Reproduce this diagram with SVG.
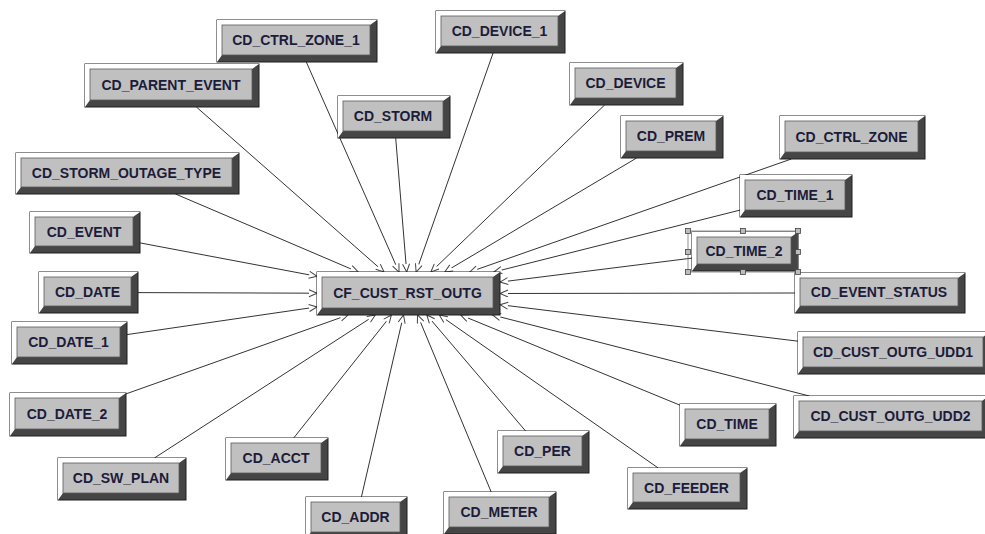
<svg xmlns="http://www.w3.org/2000/svg" width="985" height="534" viewBox="0 0 985 534">
<defs>
<style>
.o{fill:#454545;stroke:#1e1e1e;stroke-width:1}
.w{fill:#ffffff}
.f{fill:#c0c0c0;stroke:#5a5a5a;stroke-width:0.8}
.t{font-family:"Liberation Sans",Arial,sans-serif;font-weight:bold;font-size:14px;fill:#1c1c3a;text-anchor:middle}
.c{stroke:#333;stroke-width:1;fill:none;marker-end:url(#arr)}
.h{fill:#bcbcbc;stroke:#444;stroke-width:0.8}
</style>
<marker id="arr" markerWidth="11" markerHeight="9" refX="9" refY="4" orient="auto" markerUnits="userSpaceOnUse">
<path d="M1,0.5 L9,4 L1,7.5" fill="#fff" stroke="#444" stroke-width="1"/>
</marker>
</defs>
<rect width="985" height="534" fill="#fff"/>
<g id="connectors">
<line class="c" x1="306.3" y1="62" x2="399.0" y2="272"/>
<line class="c" x1="196.4" y1="107" x2="384.0" y2="272"/>
<line class="c" x1="175.5" y1="194" x2="358.2" y2="272"/>
<line class="c" x1="140" y1="242.9" x2="317" y2="276.3"/>
<line class="c" x1="138" y1="292.6" x2="317" y2="293.2"/>
<line class="c" x1="127" y1="334.6" x2="317" y2="306.9"/>
<line class="c" x1="126" y1="393.9" x2="348.0" y2="315"/>
<line class="c" x1="154.4" y1="458" x2="375.3" y2="315"/>
<line class="c" x1="293.7" y1="438" x2="391.4" y2="315"/>
<line class="c" x1="361.4" y1="497" x2="403.5" y2="315"/>
<line class="c" x1="491.2" y1="492" x2="417.5" y2="315"/>
<line class="c" x1="525.6" y1="431" x2="426.8" y2="315"/>
<line class="c" x1="658.2" y1="468" x2="439.3" y2="315"/>
<line class="c" x1="680" y1="405.2" x2="460.7" y2="315"/>
<line class="c" x1="809.4" y1="396" x2="492.6" y2="315"/>
<line class="c" x1="798" y1="341.2" x2="500" y2="304.7"/>
<line class="c" x1="795" y1="293" x2="500" y2="293.5"/>
<line class="c" x1="692" y1="258.1" x2="500" y2="282.1"/>
<line class="c" x1="740" y1="210.1" x2="493.9" y2="272"/>
<line class="c" x1="791.3" y1="159" x2="469.7" y2="272"/>
<line class="c" x1="636.6" y1="158" x2="444.7" y2="272"/>
<line class="c" x1="604.6" y1="105" x2="430.9" y2="272"/>
<line class="c" x1="493.1" y1="53" x2="416.1" y2="272"/>
<line class="c" x1="395.7" y1="138" x2="406.7" y2="272"/>
</g>
<g id="CD_CTRL_ZONE_1"><rect class="o" x="217" y="20" width="160" height="42"/><polygon class="w" points="217,20 377,20 370,25 222,25 222,55 217,62"/><rect class="f" x="222" y="25" width="148" height="30"/><text class="t" x="296" y="45">CD_CTRL_ZONE_1</text></g>
<g id="CD_PARENT_EVENT"><rect class="o" x="85" y="64" width="174" height="43"/><polygon class="w" points="85,64 259,64 252,69 90,69 90,100 85,107"/><rect class="f" x="90" y="69" width="162" height="31"/><text class="t" x="171" y="89.5">CD_PARENT_EVENT</text></g>
<g id="CD_STORM_OUTAGE_TYPE"><rect class="o" x="16" y="153" width="223" height="41"/><polygon class="w" points="16,153 239,153 232,158 21,158 21,187 16,194"/><rect class="f" x="21" y="158" width="211" height="29"/><text class="t" x="126.5" y="177.5">CD_STORM_OUTAGE_TYPE</text></g>
<g id="CD_EVENT"><rect class="o" x="30" y="212" width="110" height="41"/><polygon class="w" points="30,212 140,212 133,217 35,217 35,246 30,253"/><rect class="f" x="35" y="217" width="98" height="29"/><text class="t" x="84" y="236.5">CD_EVENT</text></g>
<g id="CD_DATE"><rect class="o" x="39" y="272" width="99" height="41"/><polygon class="w" points="39,272 138,272 131,277 44,277 44,306 39,313"/><rect class="f" x="44" y="277" width="87" height="29"/><text class="t" x="87.5" y="296.5">CD_DATE</text></g>
<g id="CD_DATE_1"><rect class="o" x="12" y="322" width="115" height="42"/><polygon class="w" points="12,322 127,322 120,327 17,327 17,357 12,364"/><rect class="f" x="17" y="327" width="103" height="30"/><text class="t" x="68.5" y="347">CD_DATE_1</text></g>
<g id="CD_DATE_2"><rect class="o" x="10" y="393" width="116" height="43"/><polygon class="w" points="10,393 126,393 119,398 15,398 15,429 10,436"/><rect class="f" x="15" y="398" width="104" height="31"/><text class="t" x="67" y="418.5">CD_DATE_2</text></g>
<g id="CD_SW_PLAN"><rect class="o" x="58" y="458" width="128" height="42"/><polygon class="w" points="58,458 186,458 179,463 63,463 63,493 58,500"/><rect class="f" x="63" y="463" width="116" height="30"/><text class="t" x="121" y="483">CD_SW_PLAN</text></g>
<g id="CD_ACCT"><rect class="o" x="226" y="438" width="102" height="42"/><polygon class="w" points="226,438 328,438 321,443 231,443 231,473 226,480"/><rect class="f" x="231" y="443" width="90" height="30"/><text class="t" x="276" y="463">CD_ACCT</text></g>
<g id="CD_ADDR"><rect class="o" x="306" y="497" width="101" height="42"/><polygon class="w" points="306,497 407,497 400,502 311,502 311,532 306,539"/><rect class="f" x="311" y="502" width="89" height="30"/><text class="t" x="355.5" y="522">CD_ADDR</text></g>
<g id="CD_METER"><rect class="o" x="444" y="492" width="112" height="42"/><polygon class="w" points="444,492 556,492 549,497 449,497 449,527 444,534"/><rect class="f" x="449" y="497" width="100" height="30"/><text class="t" x="499" y="517">CD_METER</text></g>
<g id="CD_PER"><rect class="o" x="498" y="431" width="91" height="42"/><polygon class="w" points="498,431 589,431 582,436 503,436 503,466 498,473"/><rect class="f" x="503" y="436" width="79" height="30"/><text class="t" x="542.5" y="456">CD_PER</text></g>
<g id="CD_FEEDER"><rect class="o" x="628" y="468" width="119" height="41"/><polygon class="w" points="628,468 747,468 740,473 633,473 633,502 628,509"/><rect class="f" x="633" y="473" width="107" height="29"/><text class="t" x="686.5" y="492.5">CD_FEEDER</text></g>
<g id="CD_TIME"><rect class="o" x="680" y="404" width="96" height="42"/><polygon class="w" points="680,404 776,404 769,409 685,409 685,439 680,446"/><rect class="f" x="685" y="409" width="84" height="30"/><text class="t" x="727" y="429">CD_TIME</text></g>
<g id="CD_CUST_OUTG_UDD2"><rect class="o" x="794" y="396" width="195" height="42"/><polygon class="w" points="794,396 989,396 982,401 799,401 799,431 794,438"/><rect class="f" x="799" y="401" width="183" height="30"/><text class="t" x="890.5" y="421">CD_CUST_OUTG_UDD2</text></g>
<g id="CD_CUST_OUTG_UDD1"><rect class="o" x="798" y="332" width="192" height="42"/><polygon class="w" points="798,332 990,332 983,337 803,337 803,367 798,374"/><rect class="f" x="803" y="337" width="180" height="30"/><text class="t" x="893" y="357">CD_CUST_OUTG_UDD1</text></g>
<g id="CD_EVENT_STATUS"><rect class="o" x="795" y="273" width="170" height="40"/><polygon class="w" points="795,273 965,273 958,278 800,278 800,306 795,313"/><rect class="f" x="800" y="278" width="158" height="28"/><text class="t" x="879" y="297">CD_EVENT_STATUS</text></g>
<g id="CD_TIME_2"><rect class="o" x="692" y="232" width="106" height="39"/><polygon class="w" points="692,232 798,232 791,237 697,237 697,264 692,271"/><rect class="f" x="697" y="237" width="94" height="27"/><text class="t" x="744" y="255.5">CD_TIME_2</text>
<rect x="688" y="231" width="110" height="41" fill="none" stroke="#777" stroke-width="0.8"/>
<rect class="h" x="685.5" y="228.5" width="5" height="5"/><rect class="h" x="740.5" y="228.5" width="5" height="5"/><rect class="h" x="795.5" y="228.5" width="5" height="5"/>
<rect class="h" x="685.5" y="249.5" width="5" height="5"/><rect class="h" x="795.5" y="249.5" width="5" height="5"/>
<rect class="h" x="685.5" y="269.5" width="5" height="5"/><rect class="h" x="740.5" y="269.5" width="5" height="5"/><rect class="h" x="795.5" y="269.5" width="5" height="5"/>
</g>
<g id="CD_TIME_1"><rect class="o" x="740" y="175" width="112" height="42"/><polygon class="w" points="740,175 852,175 845,180 745,180 745,210 740,217"/><rect class="f" x="745" y="180" width="100" height="30"/><text class="t" x="795" y="200">CD_TIME_1</text></g>
<g id="CD_CTRL_ZONE"><rect class="o" x="780" y="116" width="145" height="43"/><polygon class="w" points="780,116 925,116 918,121 785,121 785,152 780,159"/><rect class="f" x="785" y="121" width="133" height="31"/><text class="t" x="851.5" y="141.5">CD_CTRL_ZONE</text></g>
<g id="CD_PREM"><rect class="o" x="621" y="116" width="102" height="42"/><polygon class="w" points="621,116 723,116 716,121 626,121 626,151 621,158"/><rect class="f" x="626" y="121" width="90" height="30"/><text class="t" x="671" y="141">CD_PREM</text></g>
<g id="CD_DEVICE"><rect class="o" x="570" y="63" width="113" height="42"/><polygon class="w" points="570,63 683,63 676,68 575,68 575,98 570,105"/><rect class="f" x="575" y="68" width="101" height="30"/><text class="t" x="625.5" y="88">CD_DEVICE</text></g>
<g id="CD_DEVICE_1"><rect class="o" x="436" y="11" width="129" height="42"/><polygon class="w" points="436,11 565,11 558,16 441,16 441,46 436,53"/><rect class="f" x="441" y="16" width="117" height="30"/><text class="t" x="499.5" y="36">CD_DEVICE_1</text></g>
<g id="CD_STORM"><rect class="o" x="338" y="96" width="112" height="42"/><polygon class="w" points="338,96 450,96 443,101 343,101 343,131 338,138"/><rect class="f" x="343" y="101" width="100" height="30"/><text class="t" x="393" y="121">CD_STORM</text></g>
<g id="CF_CUST_RST_OUTG"><rect class="o" x="317" y="272" width="183" height="43"/><polygon class="w" points="317,272 500,272 493,277 322,277 322,308 317,315"/><rect class="f" x="322" y="277" width="171" height="31"/><text class="t" x="407.5" y="297.5">CF_CUST_RST_OUTG</text></g>
</svg>
